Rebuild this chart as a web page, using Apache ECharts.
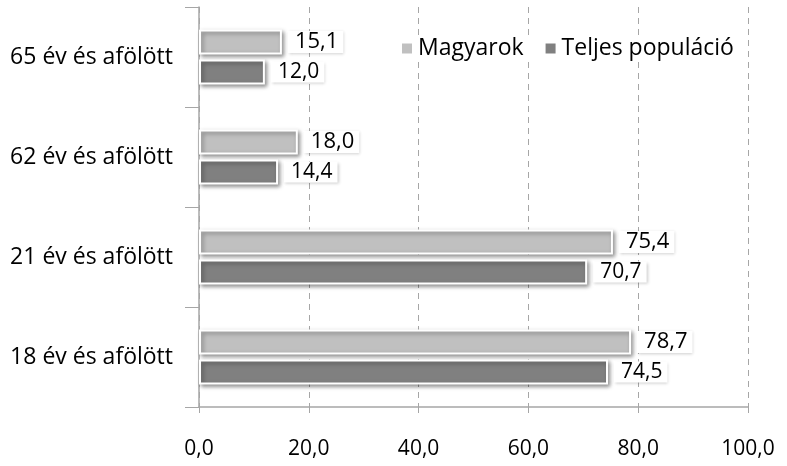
<!DOCTYPE html>
<html lang="hu" style="height: 100%">
<head>
  <meta charset="utf-8">
</head>
<body style="height: 100%; margin: 0; background: #fff;">
  <div id="container" style="width: 787px; height: 466px;"></div>
  <script type="text/javascript" src="https://cdn.jsdelivr.net/npm/echarts@6/dist/echarts.min.js"></script>
  <script type="text/javascript">
    // categories bottom to top, as the y axis draws them
    var categories = ['18 év és afölött', '21 év és afölött', '62 év és afölött', '65 év és afölött'];
    var magyarok = [78.7, 75.4, 18.0, 15.1];
    var teljes = [74.5, 70.7, 14.4, 12.0];
    var xTicks = [0, 20, 40, 60, 80, 100];

    var font = '"Open Sans", sans-serif';
    var dom = document.getElementById('container');
    var myChart = echarts.init(dom, null, { renderer: 'canvas' });

    function fmt(v) {
      return v.toFixed(1).replace('.', ',');
    }

    function barLabel(size) {
      return {
        show: true,
        position: 'right',
        distance: 6,
        formatter: function (p) { return fmt(p.value); },
        fontFamily: font,
        fontSize: size,
        color: '#000',
        backgroundColor: '#fff',
        padding: [0, 5, 0, 7],
        shadowBlur: 3,
        shadowColor: 'rgba(0,0,0,0.2)',
        shadowOffsetX: 1,
        shadowOffsetY: 1
      };
    }

    var barStyle = function (c) {
      return {
        color: c,
        borderColor: '#fff',
        borderWidth: 2,
        shadowBlur: 4,
        shadowColor: 'rgba(0,0,0,0.4)',
        shadowOffsetX: 2,
        shadowOffsetY: 2
      };
    };

    var option = {
      animation: false,
      legend: {
        data: ['Magyarok', 'Teljes populáció'],
        left: 396,
        top: 35,
        icon: 'rect',
        itemWidth: 12,
        itemHeight: 12,
        itemGap: 20,
        backgroundColor: '#fff',
        padding: [2, 4],
        textStyle: { fontFamily: font, fontSize: 23, color: '#000' }
      },
      grid: { left: 199, right: 39, top: 7, bottom: 59, containLabel: false },
      xAxis: {
        type: 'value',
        min: 0,
        max: 100,
        interval: 20,
        axisLine: { show: true, lineStyle: { color: '#a6a6a6', width: 1.5 } },
        axisTick: { show: true, length: 6, lineStyle: { color: '#a6a6a6' } },
        splitLine: { show: true, lineStyle: { color: '#a6a6a6', type: [6, 5] } },
        axisLabel: {
          margin: 32,
          fontFamily: font,
          fontSize: 21,
          color: '#000',
          formatter: function (v) { return xTicks.indexOf(v) >= 0 ? fmt(v) : ''; }
        }
      },
      yAxis: {
        type: 'category',
        data: categories,
        axisLine: { show: true, lineStyle: { color: '#a6a6a6', width: 1.5 } },
        axisTick: { show: true, length: 14, lineStyle: { color: '#a6a6a6' } },
        axisLabel: { margin: 26, fontFamily: font, fontSize: 23, color: '#000' }
      },
      series: [
        {
          name: 'Magyarok',
          type: 'bar',
          data: magyarok,
          barWidth: 25,
          barGap: '20%',
          itemStyle: barStyle('#c0c0c0'),
          label: barLabel(22)
        },
        {
          name: 'Teljes populáció',
          type: 'bar',
          data: teljes,
          barWidth: 25,
          barGap: '20%',
          itemStyle: barStyle('#808080'),
          label: barLabel(21)
        }
      ]
    };

    myChart.setOption(option, true);
    window.addEventListener('resize', myChart.resize);
  </script>
</body>
</html>
